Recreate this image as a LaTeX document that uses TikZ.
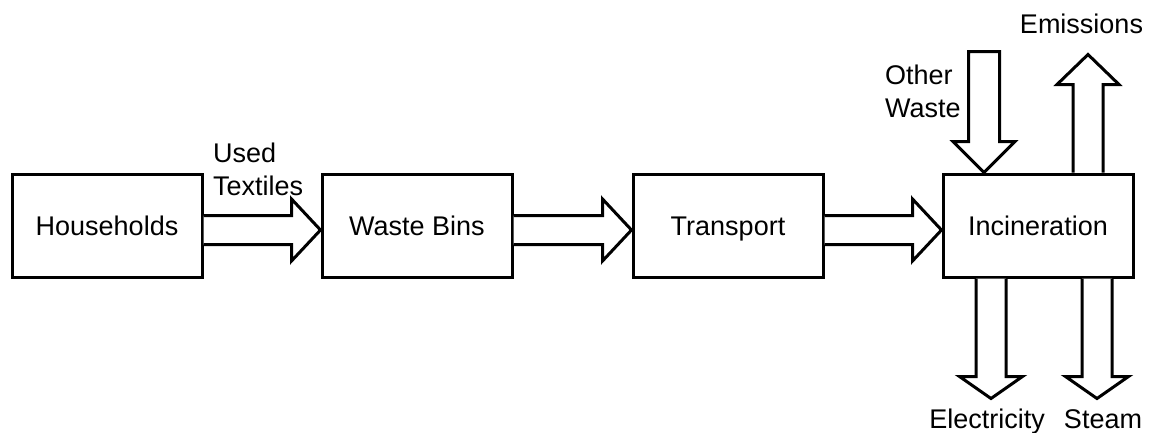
\documentclass[tikz,border=0pt]{standalone}
\usepackage{fontspec}
\setmainfont{Liberation Sans}
\usetikzlibrary{calc}

% horizontal block arrow from the east side of #1 to the west side of #2
\newcommand\flowright[2]{%
  \draw[blk] ($(#1.east)+(0,-10)$) -- ($(#2.west)+(-29,-10)$)
    -- ($(#2.west)+(-29,-26.5)$) -- ($(#2.west)+(0,4.5)$)
    -- ($(#2.west)+(-29,35.5)$) -- ($(#2.west)+(-29,19)$)
    -- ($(#1.east)+(0,19)$);}

\begin{document}
\begin{tikzpicture}[x=1pt,y=-1pt,
  stage/.style={draw, line width=3pt, minimum width=190pt, minimum height=103pt,
    inner sep=0pt, text height=20pt, text depth=0pt,
    font=\fontsize{27}{33}\selectfont},
  blk/.style={draw, line width=3pt, line join=miter, fill=white},
  lbl/.style={font=\fontsize{27}{32.5}\selectfont, inner sep=0pt}]
\useasboundingbox (0,0) rectangle (1152,432);

% process stages
\node[stage] (hh)  at (107,225.5)  {Households};
\node[stage] (wb)  at (417,225.5)  {Waste Bins};
\node[stage] (tr)  at (728,225.5)  {Transport};
\node[stage] (inc) at (1038,225.5) {Incineration};

% main flow
\flowright{hh}{wb}
\flowright{wb}{tr}
\flowright{tr}{inc}

% other waste entering from above
\coordinate (owtip) at ($(inc.north)+(-54,0)$);
\coordinate (owtop) at ($(owtip)+(0,-121)$);
\draw[blk] ($(owtop)+(-15.5,0)$) -- ($(owtip)+(-15.5,-31)$) -- ($(owtip)+(-31,-31)$)
  -- (owtip) -- ($(owtip)+(31,-31)$) -- ($(owtip)+(15.5,-31)$)
  -- ($(owtop)+(15.5,0)$) -- cycle;

% emissions leaving upwards
\coordinate (embase) at ($(inc.north)+(50,0)$);
\coordinate (emtip) at ($(embase)+(0,-118)$);
\draw[blk] ($(embase)+(-15,0)$) -- ($(emtip)+(-15,30)$) -- ($(emtip)+(-31,30)$)
  -- (emtip) -- ($(emtip)+(31,30)$) -- ($(emtip)+(15,30)$) -- ($(embase)+(15,0)$);

% electricity leaving downwards
\coordinate (elbase) at ($(inc.south)+(-47,0)$);
\coordinate (eltip) at ($(elbase)+(0,120)$);
\draw[blk] ($(elbase)+(-15,0)$) -- ($(eltip)+(-15,-22)$) -- ($(eltip)+(-31.5,-22)$)
  -- (eltip) -- ($(eltip)+(31.5,-22)$) -- ($(eltip)+(15,-22)$) -- ($(elbase)+(15,0)$);

% steam leaving downwards
\coordinate (stbase) at ($(inc.south)+(59,0)$);
\coordinate (sttip) at ($(stbase)+(0,120)$);
\draw[blk] ($(stbase)+(-15,0)$) -- ($(sttip)+(-15,-22)$) -- ($(sttip)+(-31.5,-22)$)
  -- (sttip) -- ($(sttip)+(31.5,-22)$) -- ($(sttip)+(15,-22)$) -- ($(stbase)+(15,0)$);

% labels (base anchor of a two-line label is the last line's baseline)
\node[lbl, anchor=base west, align=left] (lused) at (213,195) {Used\\Textiles};
\node[lbl, anchor=base west, align=left] (lother) at (885,117) {Other\\Waste};
\node[lbl, anchor=base] (lem) at (1081.5,33) {Emissions};
\node[lbl, anchor=base] (lel) at (987,428) {Electricity};
\node[lbl, anchor=base] (lst) at (1103,428) {Steam};
\end{tikzpicture}
\end{document}
